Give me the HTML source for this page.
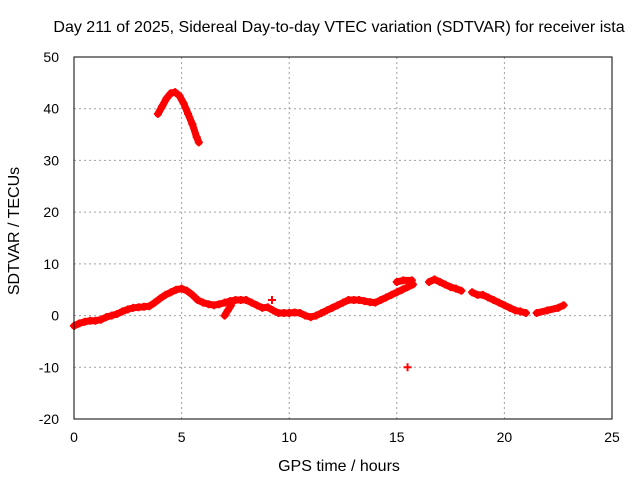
<!DOCTYPE html>
<html><head><meta charset="utf-8"><style>
body{margin:0;background:#fff;}
svg{display:block;font-family:"Liberation Sans",sans-serif;}
</style></head><body>
<svg id="chart" width="640" height="480">
<text x="339" y="32" text-anchor="middle" font-size="16">Day 211 of 2025, Sidereal Day-to-day VTEC variation (SDTVAR) for receiver ista</text>
<text x="339" y="471" text-anchor="middle" font-size="16">GPS time / hours</text>
<text transform="translate(19,231) rotate(-90)" text-anchor="middle" font-size="16">SDTVAR / TECUs</text>
<g id="grid"></g><g id="ticks"></g><g id="marks"></g>
<rect x="74" y="57" width="538" height="362" fill="none" stroke="#000"/>
</svg>
<script>
const xTicks=[0,5,10,15,20,25];
const yTicks=[-20,-10,0,10,20,30,40,50];
const segMain=[[0,-2],[0.25,-1.5],[0.5,-1.2],[0.75,-1],[1,-1],[1.25,-0.8],[1.5,-0.3],[1.75,0],[2,0.3],[2.25,0.8],[2.5,1.2],[2.75,1.5],[3,1.6],[3.25,1.7],[3.5,1.8],[3.75,2.5],[4,3.3],[4.25,4],[4.5,4.5],[4.75,5],[5,5.2],[5.25,4.8],[5.5,4],[5.75,3],[6,2.5],[6.25,2.2],[6.5,2],[6.75,2.2],[7,2.5],[7.25,2.8],[7.5,3],[7.75,3],[8,3],[8.25,2.5],[8.5,2],[8.75,1.5],[9,1.6],[9.25,1],[9.5,0.5],[9.75,0.5],[10,0.5],[10.25,0.6],[10.5,0.5],[10.75,0],[11,-0.3],[11.25,0],[11.5,0.5],[11.75,1],[12,1.5],[12.25,2],[12.5,2.5],[12.75,3],[13,3],[13.25,3],[13.5,2.8],[13.75,2.6],[14,2.5],[14.25,3],[14.5,3.5],[14.75,4],[15,4.5],[15.25,5],[15.5,5.5],[15.75,6]];
const segLate=[[16.5,6.5],[16.75,7],[17,6.5],[17.25,6],[17.5,5.5],[17.75,5.2],[18,4.8]];
const segLate2=[[18.5,4.5],[18.75,4],[19,4],[19.25,3.5],[19.5,3],[19.75,2.5],[20,2],[20.25,1.5],[20.5,1],[20.75,0.8],[21,0.5]];
const segEnd=[[21.5,0.5],[22,1],[22.5,1.5],[22.75,2]];
const segArc=[[3.9,39],[4.1,40.5],[4.3,42],[4.5,43],[4.7,43.2],[4.9,42.5],[5.1,41],[5.3,39],[5.5,37],[5.7,34.5],[5.8,33.5]];
const segBranch1=[[7.0,0],[7.15,1],[7.3,2]];
const segBranch2=[[15.0,6.5],[15.3,6.8],[15.7,6.8]];
const segIso=[[9.2,3],[15.5,-10]];
const segments=[segMain,segLate,segLate2,segEnd,segArc,segBranch1,segBranch2];
const X=v=>74+v*538/25, Y=v=>57+(50-v)*362/70;
const NS="http://www.w3.org/2000/svg";
const g=document.getElementById('grid'),t=document.getElementById('ticks'),m=document.getElementById('marks');
function mk(tag,a,p){const e=document.createElementNS(NS,tag);for(const k in a)e.setAttribute(k,a[k]);p.appendChild(e);return e;}
xTicks.forEach(v=>{
 if(v>0&&v<25){const l=mk('line',{x1:X(v),x2:X(v),y1:57,y2:419,stroke:'#a0a0a0','stroke-dasharray':'2,3'},g);
 
 }
 const tx=mk('text',{x:X(v),y:442,'text-anchor':'middle','font-size':14},t);tx.textContent=v;
 
 
});
yTicks.forEach(v=>{
 if(v>-20&&v<50){const l=mk('line',{x1:74,x2:612,y1:Y(v),y2:Y(v),stroke:'#a0a0a0','stroke-dasharray':'2,3'},g);
 
 }
 const tx=mk('text',{x:59,y:Y(v)+5,'text-anchor':'end','font-size':14},t);tx.textContent=v;
 
 
});
segments.forEach(s=>{
 const p=mk('polyline',{points:s.map(d=>X(d[0])+','+Y(d[1])).join(' '),fill:'none',stroke:'#f00','stroke-width':7,'stroke-linejoin':'round','stroke-linecap':'round'},m);
 
 
});
segments.concat([segIso]).forEach(s=>s.forEach(d=>{
 const x=X(d[0]),y=Y(d[1]);
 const p=mk('path',{d:`M${x-4},${y}h8M${x},${y-4}v8`,stroke:'#f00','stroke-width':2},m);
 
 
}));
</script>
</body></html>
